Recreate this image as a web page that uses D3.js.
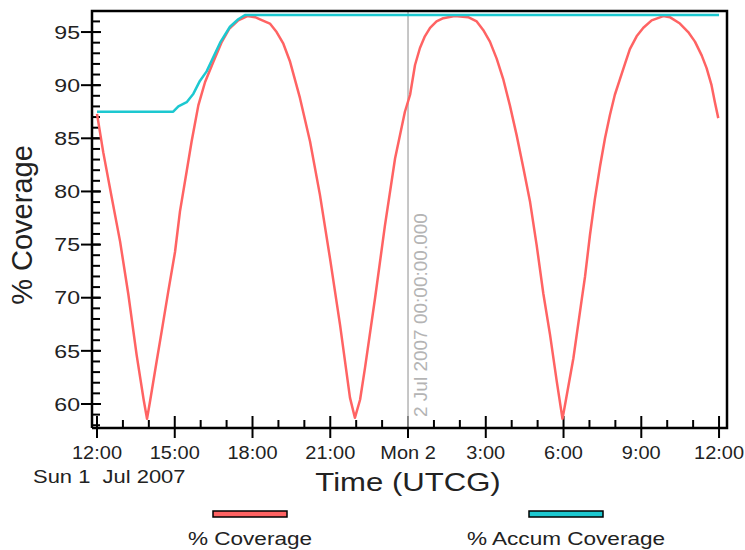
<!DOCTYPE html>
<html lang="en">
<head>
  <meta charset="UTF-8">
  <title>% Coverage</title>
  <style>
    body { margin: 0; background: #fff; }
    text { font-family: "Liberation Sans", Arial, sans-serif; fill: #222; }
    .tick-label { font-size: 18.5px; }
    .line { fill: none; stroke-width: 2.5px; stroke-linejoin: round; }
  </style>
</head>
<body>
  <svg width="745" height="550"></svg>

  <script src="https://d3js.org/d3.v7.min.js"></script>
  <script>
    // hours after 12:00 UTCG, Sun 1 Jul 2007
    var covHours = [0, 0.24, 0.57, 0.89, 1.21, 1.53, 1.8, 1.93, 2.05, 2.3, 2.5, 2.75, 3.01, 3.2, 3.46, 3.65,
      3.91, 4.17, 4.49, 4.8, 5.1, 5.45, 5.8, 6.1, 6.29, 6.67, 6.93, 7.19, 7.45, 7.83, 8.22, 8.6, 8.99,
      9.38, 9.76, 9.95, 10.15, 10.34, 10.73, 11.11, 11.5, 11.88, 12.08, 12.27, 12.46, 12.65, 12.85, 13.1,
      13.36, 13.8, 14.32, 14.65, 14.9, 15.16, 15.42, 15.67, 15.93, 16.19, 16.45, 16.71, 16.96, 17.22,
      17.48, 17.74, 17.96, 18.1, 18.38, 18.7, 18.83, 19.02, 19.21, 19.41, 19.6, 19.79, 19.98, 20.18,
      20.37, 20.56, 20.82, 21.08, 21.4, 21.85, 22.1, 22.49, 22.81, 23.07, 23.33, 23.52, 23.71, 23.84, 23.97];
    var covValues = [87.3, 83.7, 79.4, 75.3, 70.3, 64.6, 60.4, 58.6, 60.3, 64.0, 66.9, 70.6, 74.3, 78.1, 81.9, 84.7,
      88.1, 90.3, 92.2, 94.0, 95.3, 96.1, 96.5, 96.4, 96.2, 95.8, 95.0, 93.9, 92.2, 88.8, 84.7, 79.7, 73.7,
      67.4, 60.6, 58.7, 60.4, 63.4, 70.0, 76.8, 83.1, 87.5, 89.1, 91.9, 93.5, 94.6, 95.4, 96.0,
      96.3, 96.5, 96.4, 96.0, 95.2, 94.1, 92.5, 90.6, 88.1, 85.3, 82.2, 79.0, 75.0, 70.4,
      66.5, 62.1, 58.6, 60.5, 64.3, 69.8, 72.0, 75.9, 79.3, 82.4, 85.0, 87.2, 89.1, 90.6,
      92.0, 93.4, 94.6, 95.4, 96.1, 96.5, 96.4, 95.8, 95.0, 94.1, 92.8, 91.6, 90.0, 88.4, 86.9];

    var accHours = [0, 2.94, 3.14, 3.46, 3.72, 3.97, 4.23, 4.44, 4.75, 5.13, 5.45, 5.71, 24];
    var accValues = [87.5, 87.5, 88.0, 88.4, 89.2, 90.4, 91.3, 92.4, 94.0, 95.5, 96.2, 96.6, 96.6];

    var majorTickHours = [0, 3, 6, 9, 12, 15, 18, 21, 24];
    var majorTickLabels = ["12:00", "15:00", "18:00", "21:00", "Mon 2", "3:00", "6:00", "9:00", "12:00"];
    var yMajorTicks = [60, 65, 70, 75, 80, 85, 90, 95];

    var seriesNames = ["% Coverage", "% Accum Coverage"];
    var seriesColors = ["#ff6363", "#1cc8d0"];

    var start = Date.UTC(2007, 6, 1, 12, 0, 0);
    function toDate(h) { return new Date(start + h * 3600000); }

    var svg = d3.select("svg");
    var plotLeft = 92, plotRight = 727, plotTop = 11, plotBottom = 428;

    // the labels are drawn wider than the font in the original
    function place(x0, y0, s) { return "translate(" + x0 + "," + y0 + ") scale(" + (s || 1.22) + ",1)"; }

    var x = d3.scaleUtc()
        .domain([toDate(-0.193), toDate(24.307)])
        .range([plotLeft, plotRight]);
    var y = d3.scaleLinear()
        .domain([57.74, 96.98])
        .range([plotBottom, plotTop]);

    // minor ticks
    var yMinor = d3.range(58, 97, 1);
    svg.append("g").selectAll("line")
        .data(yMinor)
        .enter().append("line")
        .attr("x1", plotLeft).attr("x2", plotLeft + 8)
        .attr("y1", d => y(d)).attr("y2", d => y(d))
        .attr("stroke", "#000").attr("stroke-width", 2);

    svg.append("g").selectAll("line")
        .data(yMajorTicks)
        .enter().append("line")
        .attr("x1", plotLeft - 11).attr("x2", plotLeft + 9)
        .attr("y1", d => y(d)).attr("y2", d => y(d))
        .attr("stroke", "#000").attr("stroke-width", 2);

    svg.append("g").selectAll("text")
        .data(yMajorTicks)
        .enter().append("text")
        .attr("class", "tick-label")
        .attr("transform", d => place(plotLeft - 12, y(d), 1.25))
        .attr("dy", "0.36em")
        .attr("text-anchor", "end")
        .text(d => d);

    var xMinor = d3.range(0, 25, 1).filter(h => h % 3 !== 0);
    svg.append("g").selectAll("line")
        .data(xMinor)
        .enter().append("line")
        .attr("x1", d => x(toDate(d))).attr("x2", d => x(toDate(d)))
        .attr("y1", plotBottom - 8).attr("y2", plotBottom)
        .attr("stroke", "#000").attr("stroke-width", 2);

    svg.append("g").selectAll("line")
        .data(majorTickHours)
        .enter().append("line")
        .attr("x1", d => x(toDate(d))).attr("x2", d => x(toDate(d)))
        .attr("y1", plotBottom - 12).attr("y2", plotBottom + 10)
        .attr("stroke", "#000").attr("stroke-width", 2);

    svg.append("g").selectAll("text")
        .data(majorTickHours)
        .enter().append("text")
        .attr("class", "tick-label")
        .attr("transform", d => place(x(toDate(d)), 459, 1.08))
        .attr("text-anchor", "middle")
        .text((d, i) => majorTickLabels[i]);

    svg.append("text")
        .attr("transform", place(33, 483))
        .style("font-size", "18px")
        .attr("xml:space", "preserve")
        .text("Sun 1  Jul 2007");

    svg.append("text")
        .attr("transform", place(408, 491))
        .attr("text-anchor", "middle")
        .style("font-size", "25.5px")
        .text("Time (UTCG)");

    svg.append("text")
        .attr("transform", "translate(32,225) rotate(-90)")
        .attr("text-anchor", "middle")
        .style("font-size", "29px")
        .text("% Coverage");

    // marker at Mon 2 00:00
    var mx = x(toDate(12));
    svg.append("line")
        .attr("x1", mx).attr("x2", mx)
        .attr("y1", plotTop).attr("y2", plotBottom)
        .attr("stroke", "#b4b4b4").attr("stroke-width", 1.5);
    svg.append("text")
        .attr("transform", "translate(" + (mx + 19) + ",417) rotate(-90)")
        .style("font-size", "19px")
        .style("fill", "#b4b4b4")
        .text("2 Jul 2007 00:00:00.000");

    var line = d3.line()
        .x(d => x(toDate(d[0])))
        .y(d => y(d[1]));

    svg.append("path")
        .datum(d3.zip(covHours, covValues))
        .attr("class", "line")
        .attr("stroke", seriesColors[0])
        .attr("d", line);

    svg.append("path")
        .datum(d3.zip(accHours, accValues))
        .attr("class", "line")
        .attr("stroke", seriesColors[1])
        .attr("stroke-width", 3)
        .attr("d", line);

    // frame
    svg.append("path")
        .attr("d", "M" + plotLeft + "," + plotBottom + "V" + plotTop + "H" + plotRight + "V" + plotBottom + "H" + plotLeft)
        .attr("fill", "none").attr("stroke", "#000").attr("stroke-width", 2.5);

    // legend
    var legendX = [250, 566];
    var legend = svg.append("g").selectAll("g")
        .data(seriesNames)
        .enter().append("g");
    legend.append("rect")
        .attr("x", (d, i) => legendX[i] - 37)
        .attr("y", 511)
        .attr("width", 74).attr("height", 6)
        .attr("fill", (d, i) => seriesColors[i])
        .attr("stroke", "#000").attr("stroke-width", 1.5);
    legend.append("text")
        .attr("transform", (d, i) => place(legendX[i], 545))
        .attr("text-anchor", "middle")
        .style("font-size", "18.5px")
        .text(d => d);
  </script>
</body>
</html>
